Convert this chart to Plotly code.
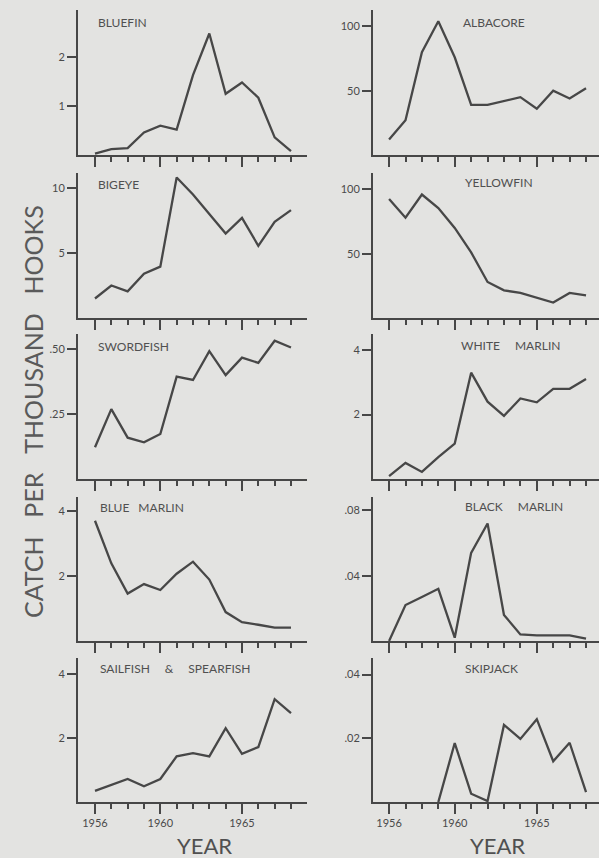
import plotly.graph_objects as go

years = list(range(1956, 1969))

bluefin = [0.03, 0.12, 0.14, 0.46, 0.60, 0.52, 1.63, 2.48, 1.25, 1.48, 1.17, 0.36, 0.08]
albacore = [12, 27, 80, 104, 76, 39, 39, 42, 45, 36, 50, 44, 52]
bigeye = [1.5, 2.5, 2.05, 3.4, 3.95, 10.8, 9.5, 8.0, 6.5, 7.7, 5.55, 7.4, 8.3]
yellowfin = [92.5, 78, 96, 85.5, 70, 51, 28, 21.5, 19.5, 16, 12, 19.5, 17.5]
swordfish = [0.122, 0.269, 0.159, 0.141, 0.173, 0.394, 0.381, 0.492, 0.400, 0.467, 0.447, 0.532, 0.506]
white_marlin = [0.09, 0.50, 0.22, 0.68, 1.10, 3.30, 2.40, 1.96, 2.50, 2.38, 2.80, 2.80, 3.10]
blue_marlin = [3.70, 2.39, 1.46, 1.75, 1.57, 2.07, 2.44, 1.89, 0.89, 0.58, 0.50, 0.41, 0.41]
black_marlin = [0.0, 0.022, 0.027, 0.032, 0.002, 0.054, 0.072, 0.016, 0.004, 0.0035, 0.0035, 0.0035, 0.0015]
sailfish = [0.35, 0.54, 0.72, 0.49, 0.72, 1.43, 1.53, 1.43, 2.31, 1.51, 1.72, 3.22, 2.78]
skipjack = [None, None, None, 0.0, 0.0185, 0.0026, 0.0003, 0.0242, 0.0198, 0.026, 0.0128, 0.0186, 0.0031]

panels = [
    ("BLUEFIN", bluefin, [1, 2], ["1", "2"], 2.96),
    ("ALBACORE", albacore, [50, 100], ["50", "100"], 112.8),
    ("BIGEYE", bigeye, [5, 10], ["5", "10"], 11.15),
    ("YELLOWFIN", yellowfin, [50, 100], ["50", "100"], 112.7),
    ("SWORDFISH", swordfish, [0.25, 0.50], [".25", ".50"], 0.558),
    ("WHITE\u2003\u2002MARLIN", white_marlin, [2, 4], ["2", "4"], 4.5),
    ("BLUE\u2003MARLIN", blue_marlin, [2, 4], ["2", "4"], 4.43),
    ("BLACK\u2003\u2002MARLIN", black_marlin, [0.04, 0.08], [".04", ".08"], 0.0882),
    ("SAILFISH\u2003\u2002&\u2003\u2002SPEARFISH", sailfish, [2, 4], ["2", "4"], 4.51),
    ("SKIPJACK", skipjack, [0.02, 0.04], [".02", ".04"], 0.0452),
]

W, H = 599, 858
rows_px = [(10, 155), (173, 318), (334, 479), (497, 641), (658, 802)]
cols_px = [(78, 307), (373, 599)]
xranges = [[1954.96, 1968.98], [1955.02, 1968.79]]
title_pos = [(96, 22), (461, 22), (96, 185), (463, 182), (96, 346), (459, 345),
             (98, 507), (463, 506), (98, 668), (463, 668)]

INK = "#474747"
BG = "#e3e3e1"
FONT = "Lato, 'Open Sans', sans-serif"

fig = go.Figure()
layout = {}
annotations = []
for i, (name, vals, tv, tt, ytop) in enumerate(panels):
    r, c = divmod(i, 2)
    k = i + 1
    xa = "x" if k == 1 else f"x{k}"
    ya = "y" if k == 1 else f"y{k}"
    fig.add_trace(go.Scatter(x=years, y=vals, mode="lines", xaxis=xa, yaxis=ya,
                             line=dict(color=INK, width=2.3), showlegend=False,
                             connectgaps=False, cliponaxis=False))
    top, bot = rows_px[r]
    left, right = cols_px[c]
    bottom_row = r == 4
    layout["xaxis" if k == 1 else f"xaxis{k}"] = dict(
        domain=[left / W, right / W], range=xranges[c], anchor=ya,
        showline=True, linecolor=INK, linewidth=2, showgrid=False, zeroline=False,
        tickmode="array", tickvals=[1956, 1960, 1965], ticktext=["1956", "1960", "1965"],
        ticks="outside", ticklen=10, tickwidth=2, tickcolor=INK,
        showticklabels=bottom_row, tickfont=dict(family=FONT, size=11, color="#4a4a4a"),
        minor=dict(tickmode="array", tickvals=years, ticks="outside", ticklen=5,
                   tickwidth=2, tickcolor=INK, showgrid=False),
    )
    layout["yaxis" if k == 1 else f"yaxis{k}"] = dict(
        domain=[1 - bot / H, 1 - top / H], range=[0, ytop], anchor=xa,
        showline=True, linecolor=INK, linewidth=2, showgrid=False, zeroline=False,
        tickmode="array", tickvals=tv, ticktext=tt,
        ticks="outside", ticklen=9, tickwidth=2, tickcolor=INK,
        tickfont=dict(family=FONT, size=11, color="#4a4a4a"),
    )
    tx, ty = title_pos[i]
    annotations.append(dict(text=name, x=tx / W, y=1 - ty / H, xref="paper", yref="paper",
                            xanchor="left", yanchor="middle", showarrow=False,
                            font=dict(family=FONT, size=12, color="#505050")))

annotations.append(dict(text="CATCH\u2003PER\u2003THOUSAND\u2003HOOKS", x=33 / W, y=1 - 412 / H,
                        xref="paper", yref="paper", xanchor="center", yanchor="middle",
                        textangle=-90, showarrow=False,
                        font=dict(family=FONT, size=25, color="#5a5a5a")))
for cx in (204, 497):
    annotations.append(dict(text="YEAR", x=cx / W, y=1 - 845 / H, xref="paper", yref="paper",
                            xanchor="center", yanchor="middle", showarrow=False,
                            font=dict(family=FONT, size=22, color="#505050")))

fig.update_layout(width=W, height=H, margin=dict(l=0, r=0, t=0, b=0),
                  paper_bgcolor=BG, plot_bgcolor=BG, annotations=annotations, **layout)
fig.write_html("out.html", config={"displayModeBar": False},
               post_script="document.body.style.margin='0';document.body.style.overflow='hidden';")
